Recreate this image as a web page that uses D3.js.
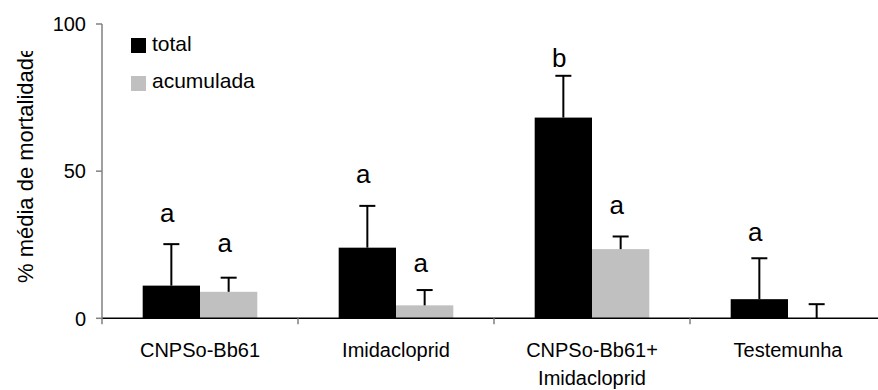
<!DOCTYPE html>
<html>
<head>
<meta charset="utf-8">
<script src="https://cdn.jsdelivr.net/npm/d3@7"></script>
<style>
  html, body { margin: 0; padding: 0; background: #fff; }
  svg { display: block; font-family: "Liberation Sans", Arial, sans-serif; }
</style>
</head>
<body>
<svg id="chart" width="878" height="390"></svg>
<script>
// ---- data ----
const categories = ["CNPSo-Bb61", "Imidacloprid", "CNPSo-Bb61+\nImidacloprid", "Testemunha"];
const seriesNames = ["total", "acumulada"];
const totalValues = [11.1, 24.0, 68.2, 6.5];
const totalErrors = [14.1, 14.2, 14.2, 13.9];
const acumValues = [9.0, 4.4, 23.5, 0];
const acumErrors = [4.8, 5.2, 4.3, 4.8];
const totalLetters = ["a", "a", "b", "a"];
const acumLetters = ["a", "a", "a", ""];
const totalLetterPos = [32.6, 45.9, 85.5, 26.1];
const acumLetterPos = [22.6, 15.8, 35.4, 0];
const yTicks = [0, 50, 100];
const yTitle = "% média de mortalidade";

// ---- layout ----
const svg = d3.select("#chart");
const mLeft = 102, mRight = 886, mTop = 24, mBottom = 318.3;
const colors = {"total": "#000000", "acumulada": "#c0c0c0"};

const x = d3.scaleBand().domain(categories).range([mLeft, mRight]).paddingInner(0).paddingOuter(0);
const inner = d3.scaleBand().domain(seriesNames).range([0, x.bandwidth()]).paddingOuter(0.71).paddingInner(0);
const y = d3.scaleLinear().domain([0, 100]).range([mBottom, mTop]);

const rows = categories.map((c, i) => ({
  cat: c,
  bars: [
    {s: "total", v: totalValues[i], e: totalErrors[i], l: totalLetters[i], lp: totalLetterPos[i]},
    {s: "acumulada", v: acumValues[i], e: acumErrors[i], l: acumLetters[i], lp: acumLetterPos[i]}
  ]
}));

// bars
const g = svg.append("g");
rows.forEach(r => {
  r.bars.forEach(b => {
    const bx = x(r.cat) + inner(b.s);
    const cx = bx + inner.bandwidth() / 2;
    if (b.v > 0) {
      g.append("rect")
        .attr("x", bx).attr("y", y(b.v))
        .attr("width", inner.bandwidth()).attr("height", y(0) - y(b.v))
        .attr("fill", colors[b.s]);
    }
    // error bar
    g.append("line").attr("x1", cx).attr("x2", cx)
      .attr("y1", y(b.v)).attr("y2", y(b.v + b.e))
      .attr("stroke", "#000").attr("stroke-width", 2);
    g.append("line").attr("x1", cx - 8).attr("x2", cx + 8)
      .attr("y1", y(b.v + b.e)).attr("y2", y(b.v + b.e))
      .attr("stroke", "#000").attr("stroke-width", 2);
    if (b.l) {
      g.append("text").attr("x", cx - 4).attr("y", y(b.lp))
        .attr("text-anchor", "middle").attr("font-size", 26).attr("fill", "#000")
        .text(b.l);
    }
  });
});

// x axis
svg.append("line").attr("x1", mLeft).attr("x2", 878).attr("y1", y(0)).attr("y2", y(0))
  .attr("stroke", "#000").attr("stroke-width", 1.5);
categories.forEach((c, i) => {
  if (i > 0) {
    svg.append("line").attr("x1", x(c)).attr("x2", x(c)).attr("y1", y(0)).attr("y2", y(0) + 6)
      .attr("stroke", "#808080").attr("stroke-width", 1.5);
  }
  const lines = c.split("\n");
  const t = svg.append("text").attr("x", x(c) + x.bandwidth() / 2).attr("y", 356.5)
    .attr("text-anchor", "middle").attr("font-size", 20).attr("fill", "#000");
  lines.forEach((ln, k) => {
    t.append("tspan").attr("x", x(c) + x.bandwidth() / 2).attr("dy", k === 0 ? 0 : 28.5).text(ln);
  });
});

// y axis
svg.append("line").attr("x1", mLeft).attr("x2", mLeft).attr("y1", mTop).attr("y2", y(0) + 6)
  .attr("stroke", "#808080").attr("stroke-width", 1.5);
yTicks.forEach(v => {
  svg.append("line").attr("x1", mLeft - 6).attr("x2", mLeft).attr("y1", y(v)).attr("y2", y(v))
    .attr("stroke", "#808080").attr("stroke-width", 1.5);
  svg.append("text").attr("x", 86).attr("y", y(v)).attr("dy", "0.36em")
    .attr("text-anchor", "end").attr("font-size", 20).attr("fill", "#000").text(v);
});

// y title, clipped at top
svg.append("clipPath").attr("id", "titleclip").append("rect")
  .attr("x", 0).attr("y", 51).attr("width", 60).attr("height", 300);
svg.append("g").attr("clip-path", "url(#titleclip)")
  .append("text")
  .attr("transform", "translate(33,283) rotate(-90)")
  .attr("text-anchor", "start").attr("font-size", 22).attr("fill", "#000")
  .text(yTitle);

// legend
seriesNames.forEach((s, i) => {
  svg.append("rect").attr("x", 131).attr("y", 38 + i * 38).attr("width", 15).attr("height", 15)
    .attr("fill", colors[s]);
  svg.append("text").attr("x", 152).attr("y", 51 + i * 37).attr("font-size", 21).attr("fill", "#000").text(s);
});
</script>
</body>
</html>
